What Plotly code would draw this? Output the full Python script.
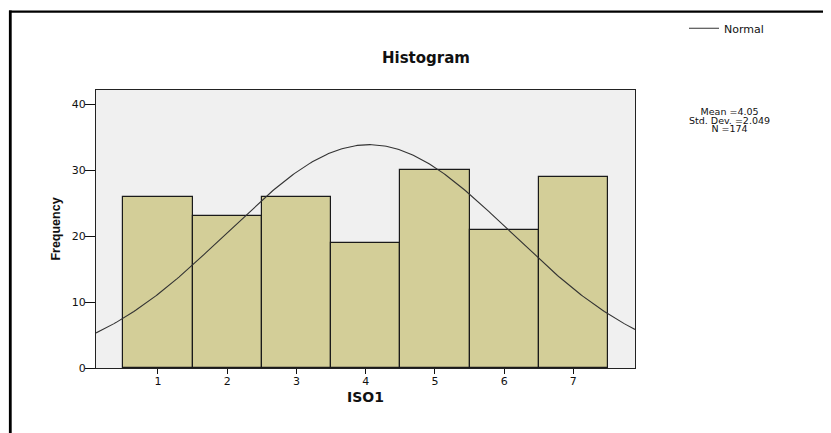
import numpy as np
import plotly.graph_objects as go

# ---- data ----
bin_centers = [1, 2, 3, 4, 5, 6, 7]
frequencies = [26, 23, 26, 19, 30, 21, 29]
x_ticks = [1, 2, 3, 4, 5, 6, 7]
y_ticks = [0, 10, 20, 30, 40]
stat_mean = 4.05
stat_sd = 2.049
stat_n = 174
x_range = [0.106, 7.89]
y_range = [0, 42.17]

# Normal curve defined by the displayed statistics (bin width = 1)
curve_x = np.linspace(x_range[0], x_range[1], 300)
curve_y = stat_n * 1.0 / (stat_sd * np.sqrt(2 * np.pi)) * np.exp(-0.5 * ((curve_x - stat_mean) / stat_sd) ** 2)

W, H = 831, 433
OFF = 8  # page body margin
# plot area in page pixels: left 96, right 635, top 90, bottom 368
ML = 96 - OFF
MT = 90 - OFF
MR = W - (635 - OFF)
MB = H - (368 - OFF)
PW, PH = W - ML - MR, H - MT - MB


def px_x(p):
    return (p - OFF - ML) / PW


def px_y(p):
    return (H - MB - (p - OFF)) / PH


def cx(p):
    return (p - OFF) / W


def cy(p):
    return 1 - (p - OFF) / H


fig = go.Figure()
fig.add_trace(go.Bar(
    x=bin_centers, y=frequencies, width=1.0,
    marker=dict(color="#D3CE98", line=dict(color="#1a1a1a", width=1.2)),
    showlegend=False, name="ISO1"))
fig.add_trace(go.Scatter(
    x=curve_x, y=curve_y, mode="lines", name="Normal",
    line=dict(color="#333333", width=1.1), showlegend=True))

body_font = "DejaVu Sans, Arial, sans-serif"

fig.update_layout(
    width=W, height=H,
    margin=dict(l=ML, r=MR, t=MT, b=MB, autoexpand=False),
    paper_bgcolor="white", plot_bgcolor="#F0F0F0",
    bargap=0,
    font=dict(family=body_font, color="#111", size=11),
    legend=dict(xref="container", yref="container", x=cx(684), y=cy(28.3),
                xanchor="left", yanchor="middle",
                bgcolor="rgba(0,0,0,0)", borderwidth=0,
                font=dict(family=body_font, size=11, color="#111")),
    xaxis=dict(range=x_range, tickvals=x_ticks, ticks="outside", ticklen=5,
               tickcolor="#111", tickwidth=1, showgrid=False, zeroline=False,
               showline=True, linecolor="#222", linewidth=1, mirror=True,
               ticklabelstandoff=-2, automargin=False,
               tickfont=dict(size=11, family=body_font, color="#111"),
               title=dict(text="<b>ISO1</b>", standoff=4,
                          font=dict(family="DejaVu Sans, Arial, sans-serif", size=14, color="#111"))),
    yaxis=dict(range=y_range, tickvals=y_ticks, ticks="outside", ticklen=10,
               tickcolor="#111", tickwidth=1, showgrid=False, zeroline=False,
               showline=True, linecolor="#222", linewidth=1, mirror=True,
               ticklabelstandoff=-3, automargin=False,
               tickfont=dict(size=11, family=body_font, color="#111"),
               title=dict(text="<b>Frequency</b>", standoff=8,
                          font=dict(family="Liberation Sans, Arial, sans-serif", size=12.5, color="#111"))),
)

# Title
fig.add_annotation(text="<b>Histogram</b>", x=px_x(426), y=px_y(58), xref="paper", yref="paper",
                   xanchor="center", yanchor="middle", showarrow=False,
                   font=dict(family="DejaVu Sans, Arial, sans-serif", size=15, color="#111"))

# Statistics block (tight line spacing, as in the reference)
stat_lines = ["Mean =%.2f" % stat_mean, "Std. Dev. =%.3f" % stat_sd, "N =%d" % stat_n]
stat_text = "<br>".join("<span style='font-size:9.5px'>%s</span>" % t for t in stat_lines)
fig.add_annotation(text=stat_text, x=px_x(729), y=px_y(120), xref="paper", yref="paper",
                   xanchor="center", yanchor="middle", align="center", showarrow=False,
                   font=dict(family=body_font, size=6.6, color="#111"))

# Outer black frame (top and left edges of the cropped screenshot)
fig.add_shape(type="line", xref="paper", yref="paper",
              x0=px_x(9), x1=px_x(900), y0=px_y(11.7), y1=px_y(11.7),
              line=dict(color="black", width=2.2))
fig.add_shape(type="line", xref="paper", yref="paper",
              x0=px_x(10.3), x1=px_x(10.3), y0=px_y(10.6), y1=px_y(470),
              line=dict(color="black", width=2.8))

fig.write_html("out.html")
